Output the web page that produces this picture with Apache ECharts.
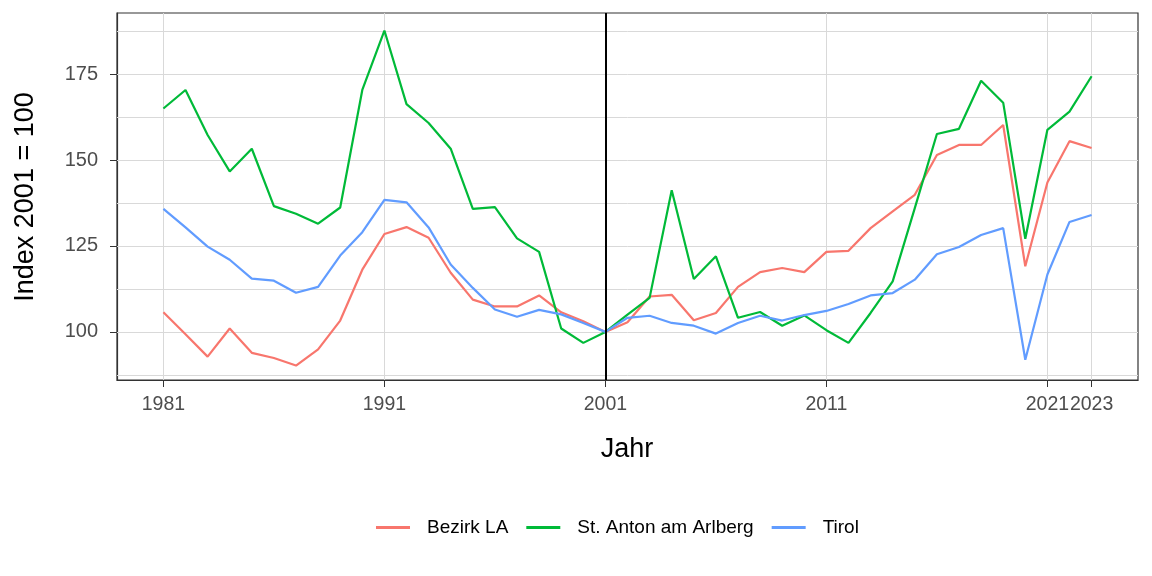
<!DOCTYPE html>
<html>
<head>
<meta charset="utf-8">
<script src="https://cdn.jsdelivr.net/npm/echarts@6/dist/echarts.min.js"></script>
<style>html,body{margin:0;padding:0;background:#fff}#c{width:1152px;height:576px}</style>
</head>
<body>
<div id="c"></div>
<script>
const years = [];
for (let y = 1981; y <= 2023; y++) years.push(y);

const seriesNames = ['Bezirk LA', 'St. Anton am Arlberg', 'Tirol'];

const bezirkLA = [105.7, 99.3, 92.8, 101.0, 93.9, 92.4, 90.2, 94.9, 103.3, 118.1,
  128.5, 130.5, 127.4, 117.2, 109.4, 107.4, 107.4, 110.6, 105.7, 103.1,
  100.0, 102.8, 110.3, 110.8, 103.4, 105.5, 113.1, 117.4, 118.6, 117.4,
  123.3, 123.6, 130.2, 135.1, 139.9, 151.5, 154.4, 154.4, 160.2, 119.1,
  143.5, 155.5, 153.5];

const stAnton = [165.0, 170.4, 157.3, 146.7, 153.3, 136.6, 134.4, 131.5, 136.2, 170.4,
  187.7, 166.3, 160.8, 153.3, 135.8, 136.3, 127.2, 123.3, 101.0, 96.8,
  100.0, 105.0, 109.9, 141.2, 115.4, 122.0, 104.1, 105.8, 101.8, 104.8,
  100.5, 96.8, 105.5, 114.7, 136.0, 157.6, 159.1, 173.1, 166.7, 127.1,
  158.8, 164.1, 174.4];

const tirol = [135.8, 130.4, 124.8, 121.0, 115.5, 114.9, 111.4, 113.1, 122.2, 129.0,
  138.4, 137.7, 130.4, 119.6, 112.8, 106.5, 104.4, 106.4, 105.1, 102.6,
  100.0, 104.1, 104.7, 102.6, 101.8, 99.5, 102.6, 104.7, 103.3, 104.9,
  106.1, 108.1, 110.6, 111.3, 115.2, 122.6, 124.7, 128.2, 130.2, 91.9,
  116.7, 132.0, 134.0];

const xTicks = [1981, 1991, 2001, 2011, 2021, 2023];
const yTicks = [100, 125, 150, 175];
const yGrid = [87.5, 100, 112.5, 125, 137.5, 150, 162.5, 175, 187.5];
const refYear = 2001;

const colors = ['#F8766D', '#00BA38', '#619CFF'];
const values = [bezirkLA, stAnton, tirol];

const chart = echarts.init(document.getElementById('c'), null, {renderer: 'canvas'});

const dataSeries = seriesNames.map((name, i) => ({
  name: name,
  type: 'line',
  data: years.map((y, k) => [y, values[i][k]]),
  showSymbol: false,
  symbol: 'none',
  lineStyle: {color: colors[i], width: 2.2},
  itemStyle: {color: colors[i]},
  z: 3,
  animation: false
}));

const gridLineData = [];
yGrid.forEach(v => gridLineData.push({yAxis: v, lineStyle: {color: '#d9d9d9', width: 1, type: 'solid'}}));
xTicks.forEach(v => gridLineData.push({xAxis: v, lineStyle: {color: '#d9d9d9', width: 1, type: 'solid'}}));

const helper = {
  name: '_grid',
  type: 'line',
  data: [],
  z: 1,
  silent: true,
  animation: false,
  markLine: {
    silent: true,
    symbol: 'none',
    label: {show: false},
    animation: false,
    z: 1,
    data: gridLineData
  }
};

const refLine = {
  name: '_ref',
  type: 'line',
  data: [],
  z: 2,
  silent: true,
  animation: false,
  markLine: {
    silent: true,
    symbol: 'none',
    label: {show: false},
    animation: false,
    data: [{xAxis: refYear, lineStyle: {color: '#000', width: 2, type: 'solid'}}]
  }
};

const FONT = 'Liberation Sans, Arial, sans-serif';

chart.setOption({
  animation: false,
  backgroundColor: '#fff',
  textStyle: {fontFamily: FONT},
  grid: {left: 117, right: 14, top: 13, bottom: 196, show: true, borderColor: '#333', borderWidth: 1.2, backgroundColor: 'transparent', containLabel: false},
  xAxis: {
    type: 'value', min: 1978.9, max: 2025.1,
    axisLine: {show: true, onZero: false, lineStyle: {color: '#333', width: 1.2}},
    axisTick: {show: true, customValues: xTicks, length: 7, lineStyle: {color: '#333'}},
    axisLabel: {customValues: xTicks, color: '#4d4d4d', fontSize: 19.5, margin: 15, hideOverlap: false, showMinLabel: true, showMaxLabel: true, formatter: v => String(v)},
    splitLine: {show: false}
  },
  yAxis: {
    type: 'value', min: 86.0, max: 192.8,
    axisLine: {show: true, onZero: false, lineStyle: {color: '#333', width: 1.2}},
    axisTick: {show: true, customValues: yTicks, length: 7, lineStyle: {color: '#333'}},
    axisLabel: {customValues: yTicks, color: '#4d4d4d', fontSize: 20, margin: 19, formatter: v => String(v)},
    splitLine: {show: false}
  },
  legend: {
    data: seriesNames,
    bottom: 34,
    left: 371,
    icon: 'rect',
    itemWidth: 34,
    itemHeight: 3,
    itemGap: 18,
    textStyle: {color: '#000', fontSize: 19, padding: [0, 0, 0, 12]}
  },
  graphic: [
    {type: 'text', x: 627, y: 450, style: {text: 'Jahr', fontSize: 27, fill: '#000', fontFamily: FONT, textAlign: 'center', textVerticalAlign: 'middle'}},
    {type: 'text', rotation: Math.PI / 2, x: 26, y: 197, style: {text: 'Index 2001 = 100', fontSize: 27, fill: '#000', fontFamily: FONT, textAlign: 'center', textVerticalAlign: 'middle'}}
  ],
  series: [helper, refLine].concat(dataSeries)
});
</script>
</body>
</html>
